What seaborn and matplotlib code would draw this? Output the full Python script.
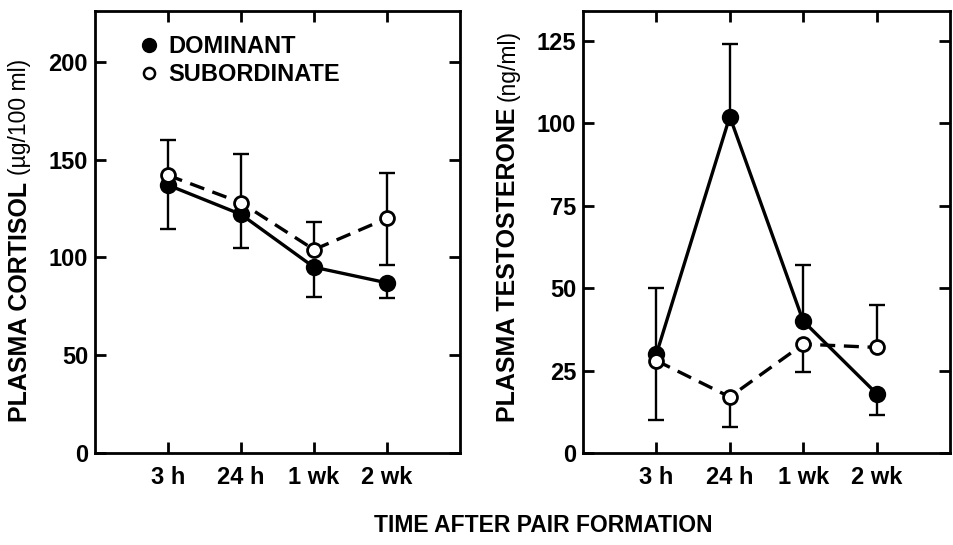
import numpy as np
import pandas as pd
import matplotlib
matplotlib.use("Agg")
import matplotlib.pyplot as plt
import seaborn as sns
from matplotlib.lines import Line2D

# ---------------- data ----------------
times = ["3 h", "24 h", "1 wk", "2 wk"]

cort_dom = [137, 122, 95, 87]
cort_dom_lo = [22.5, 17, 15, 8]
cort_dom_hi = [0, 0, 0, 0]
cort_sub = [142, 128, 104, 120]
cort_sub_lo = [0, 0, 0, 24]
cort_sub_hi = [18, 25, 14, 23]

test_dom = [30, 102, 40, 18]
test_dom_lo = [0, 0, 0, 6.5]
test_dom_hi = [20, 22, 17, 0]
test_sub = [28, 17, 33, 32]
test_sub_lo = [18, 9, 8.5, 0]
test_sub_hi = [0, 0, 0, 13]

cort_ticks = [0, 50, 100, 150, 200]
test_ticks = [0, 25, 50, 75, 100, 125]

labels = ["DOMINANT", "SUBORDINATE"]

# ---------------- style ----------------
sns.set_theme(style="ticks")
plt.rcParams["font.family"] = ["Liberation Sans", "DejaVu Sans"]
plt.rcParams["axes.linewidth"] = 2.0
for k in ["text.color", "axes.labelcolor", "xtick.color", "ytick.color",
          "axes.edgecolor"]:
    plt.rcParams[k] = "black"

fig = plt.figure(figsize=(9.54, 5.45), dpi=100)
ax1 = fig.add_axes([95 / 954, 92 / 545, 365 / 954, 442 / 545])
ax2 = fig.add_axes([583 / 954, 92 / 545, 367 / 954, 442 / 545])

xpos = np.arange(len(times))


def draw_panel(ax, dom, dlo, dhi, sub, slo, shi, ylim, yticks):
    for y, lo, hi in [(dom, dlo, dhi), (sub, slo, shi)]:
        y = np.asarray(y, float)
        lo = np.asarray(lo, float)
        hi = np.asarray(hi, float)
        _, caps, _ = ax.errorbar(xpos, y, yerr=[lo, hi], fmt="none",
                                 ecolor="black", elinewidth=1.7,
                                 capsize=6, capthick=1.7, zorder=1)
        caps[0].set_ydata(np.ma.masked_where(lo == 0, y - lo))
        caps[1].set_ydata(np.ma.masked_where(hi == 0, y + hi))
    df_d = pd.DataFrame({"x": xpos, "y": dom})
    df_s = pd.DataFrame({"x": xpos, "y": sub})
    sns.lineplot(data=df_d, x="x", y="y", ax=ax, color="black",
                 linewidth=2.4, marker="o", markersize=11,
                 markerfacecolor="black", markeredgecolor="black",
                 markeredgewidth=1.5, zorder=3)
    sns.lineplot(data=df_s, x="x", y="y", ax=ax, color="black",
                 linewidth=2.4, linestyle=(0, (4.5, 2.6)), marker="o",
                 markersize=10, markerfacecolor="white",
                 markeredgecolor="black", markeredgewidth=2.0, zorder=4)
    ax.set_xlim(-1, 4)
    ax.set_ylim(*ylim)
    ax.set_xticks(xpos)
    ax.set_xticklabels(times)
    ax.set_yticks(yticks)
    ax.set_yticklabels([str(t) for t in yticks])
    ax.set_xlabel("")
    ax.set_ylabel("")
    ax.tick_params(direction="in", top=True, right=True, length=8,
                   width=2.0, labelsize=17, colors="black")
    ax.tick_params(axis="x", pad=9)
    ax.tick_params(axis="y", pad=5)
    for lab in ax.get_xticklabels() + ax.get_yticklabels():
        lab.set_fontweight("bold")
    for sp in ax.spines.values():
        sp.set_visible(True)
        sp.set_linewidth(2.0)
        sp.set_color("black")


draw_panel(ax1, cort_dom, cort_dom_lo, cort_dom_hi,
           cort_sub, cort_sub_lo, cort_sub_hi, (0, 226), cort_ticks)
draw_panel(ax2, test_dom, test_dom_lo, test_dom_hi,
           test_sub, test_sub_lo, test_sub_hi, (0, 134), test_ticks)

# legend
handles = [
    Line2D([], [], linestyle="none", marker="o", markersize=10,
           markerfacecolor="black", markeredgecolor="black"),
    Line2D([], [], linestyle="none", marker="o", markersize=8,
           markerfacecolor="white", markeredgecolor="black",
           markeredgewidth=1.8),
]
ax1.legend(handles, labels, loc="upper left", bbox_to_anchor=(0.123, 0.945),
           frameon=False, handlelength=0.8, handletextpad=0.4,
           labelspacing=0.2, borderpad=0, borderaxespad=0,
           prop={"weight": "bold", "size": 17})

# y labels with separate unit parts
for xc, main, unit in [(20 / 954, "PLASMA CORTISOL", "(µg/100 ml)"),
                       (508 / 954, "PLASMA TESTOSTERONE", "(ng/ml)")]:
    t = fig.text(xc, (545 - 422) / 545, main, rotation=90, ha="center",
                 va="bottom", fontsize=18, fontweight="bold")
    ax1.annotate(unit, xy=(0.5, 1.0), xycoords=t, xytext=(0, 5),
                 textcoords="offset points", rotation=90, ha="center",
                 va="bottom", fontsize=16.5, fontweight="normal",
                 annotation_clip=False)

fig.text(543 / 954, (545 - 526) / 545, "TIME AFTER PAIR FORMATION",
         ha="center", va="center", fontsize=16.5, fontweight="bold")

fig.savefig("out.png", dpi=100)
